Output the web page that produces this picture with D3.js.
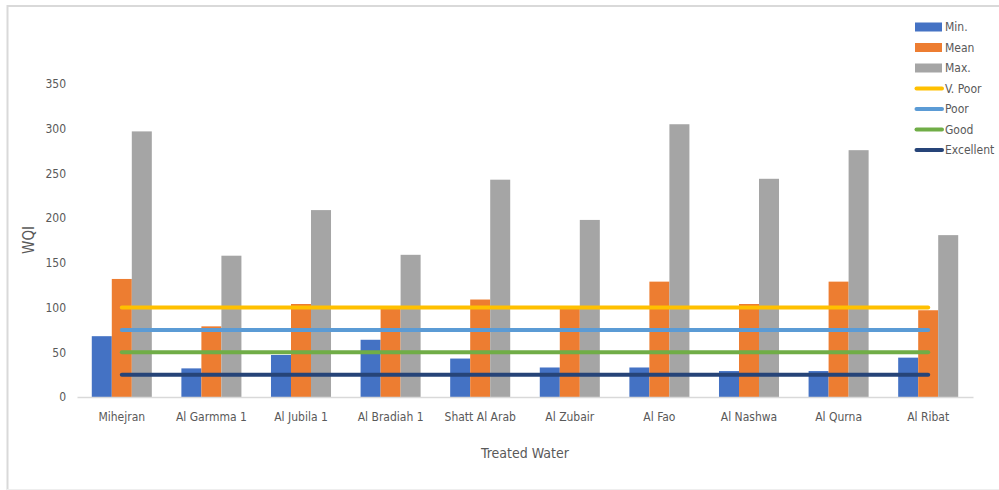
<!DOCTYPE html>
<html>
<head>
<meta charset="utf-8">
<script src="https://cdn.jsdelivr.net/npm/d3@7"></script>
<style>
  html, body { margin: 0; padding: 0; background: #fff; }
  svg { display: block; }
  text { font-family: "Liberation Sans Narrow", "Arial Narrow", "DejaVu Sans Condensed", sans-serif; fill: #595959; }
</style>
</head>
<body>
<svg id="chart" width="999" height="490"></svg>
<script>
// Water quality index per treated-water station
const stations = ["Mihejran", "Al Garmma 1", "Al Jubila 1", "Al Bradiah 1", "Shatt Al Arab",
                  "Al Zubair", "Al Fao", "Al Nashwa", "Al Qurna", "Al Ribat"];
const minValues  = [68, 32, 47, 64, 43, 33, 33, 29, 29, 44];
const meanValues = [132, 79, 104, 99, 109, 99, 129, 104, 129, 97];
const maxValues  = [297, 158, 209, 159, 243, 198, 305, 244, 276, 181];

// Classification thresholds
const classNames  = ["V. Poor", "Poor", "Good", "Excellent"];
const classValues = [100, 75, 50, 25];

const yTicks = [0, 50, 100, 150, 200, 250, 300, 350];

const barSeries   = ["Min.", "Mean", "Max."];
const barColors   = ["#4472c4", "#ed7d31", "#a5a5a5"];
const classColors = ["#ffc000", "#5b9bd5", "#70ad47", "#264478"];

const fontStack = "'Liberation Sans Narrow', 'Arial Narrow', 'DejaVu Sans Condensed', sans-serif";

const svg = d3.select("#chart");

// frame
svg.append("path")
  .attr("d", "M7.5,490 V6 H999")
  .attr("fill", "none").attr("stroke", "#d9d9d9").attr("stroke-width", 2);
svg.append("line")
  .attr("x1", 7).attr("x2", 999).attr("y1", 489.5).attr("y2", 489.5)
  .attr("stroke", "#eeeeee").attr("stroke-width", 1);

const plot = { left: 77, right: 973, top: 84, bottom: 397 };

const x0 = d3.scaleBand().domain(stations).range([plot.left, plot.right]).paddingInner(0.33).paddingOuter(0.165);
const x1 = d3.scaleBand().domain(barSeries).range([0, x0.bandwidth()]);
const y = d3.scaleLinear().domain([0, 350]).range([plot.bottom, plot.top]);

// y axis labels
const yAxis = d3.axisLeft(y).tickValues(yTicks).tickSize(0).tickPadding(11);
const gy = svg.append("g").attr("transform", `translate(${plot.left},0)`).call(yAxis);
gy.select(".domain").remove();
gy.selectAll("text").style("font-size", "12px").attr("fill", "#595959")
  .style("font-family", fontStack);

// bars
const groups = svg.append("g").selectAll("g")
  .data(stations)
  .join("g")
  .attr("transform", d => `translate(${x0(d)},0)`);

const seriesValues = [minValues, meanValues, maxValues];
groups.selectAll("rect")
  .data((d, i) => barSeries.map((s, k) => ({ s, k, v: seriesValues[k][i] })))
  .join("rect")
  .attr("x", d => x1(d.s))
  .attr("width", x1.bandwidth())
  .attr("y", d => y(d.v))
  .attr("height", d => y(0) - y(d.v))
  .attr("fill", d => barColors[d.k]);

// x axis
const xAxis = d3.axisBottom(x0).tickSize(0).tickPadding(15);
const gx = svg.append("g").attr("transform", `translate(0,${plot.bottom})`).call(xAxis);
gx.select(".domain").attr("stroke", "#d9d9d9").attr("stroke-width", 1.5);
gx.selectAll("text").style("font-size", "12px").attr("fill", "#595959")
  .style("font-family", fontStack);

// threshold lines, spanning first to last station centre
const xFirst = x0(stations[0]) + x0.bandwidth() / 2;
const xLast = x0(stations[stations.length - 1]) + x0.bandwidth() / 2;
const line = d3.line();
svg.append("g").selectAll("path")
  .data(classValues)
  .join("path")
  .attr("d", v => line([[xFirst, y(v)], [xLast, y(v)]]))
  .attr("stroke", (v, i) => classColors[i])
  .attr("stroke-width", 4)
  .attr("stroke-linecap", "round")
  .attr("fill", "none");

// axis titles
svg.append("text")
  .attr("transform", "translate(34,240) rotate(-90)")
  .attr("text-anchor", "middle")
  .style("font-size", "15px")
  .text("WQI");
svg.append("text")
  .attr("x", 525).attr("y", 458)
  .attr("text-anchor", "middle")
  .style("font-size", "14px")
  .text("Treated Water");

// legend
const legendItems = barSeries.map((s, k) => ({ name: s, type: "bar", color: barColors[k] }))
  .concat(classNames.map((c, k) => ({ name: c, type: "line", color: classColors[k] })));
const legend = svg.append("g").attr("transform", "translate(915,27)");
const li = legend.selectAll("g").data(legendItems).join("g")
  .attr("transform", (d, i) => `translate(0,${i * 20.5})`);
li.filter(d => d.type === "bar").append("rect")
  .attr("x", 0).attr("y", -4.5).attr("width", 27).attr("height", 9)
  .attr("fill", d => d.color);
li.filter(d => d.type === "line").append("line")
  .attr("x1", 1.5).attr("x2", 27).attr("y1", 0).attr("y2", 0)
  .attr("stroke", d => d.color).attr("stroke-width", 4).attr("stroke-linecap", "round");
li.append("text")
  .attr("x", 30).attr("y", 0).attr("dy", "0.35em")
  .style("font-size", "12px")
  .text(d => d.name);
</script>
</body>
</html>
